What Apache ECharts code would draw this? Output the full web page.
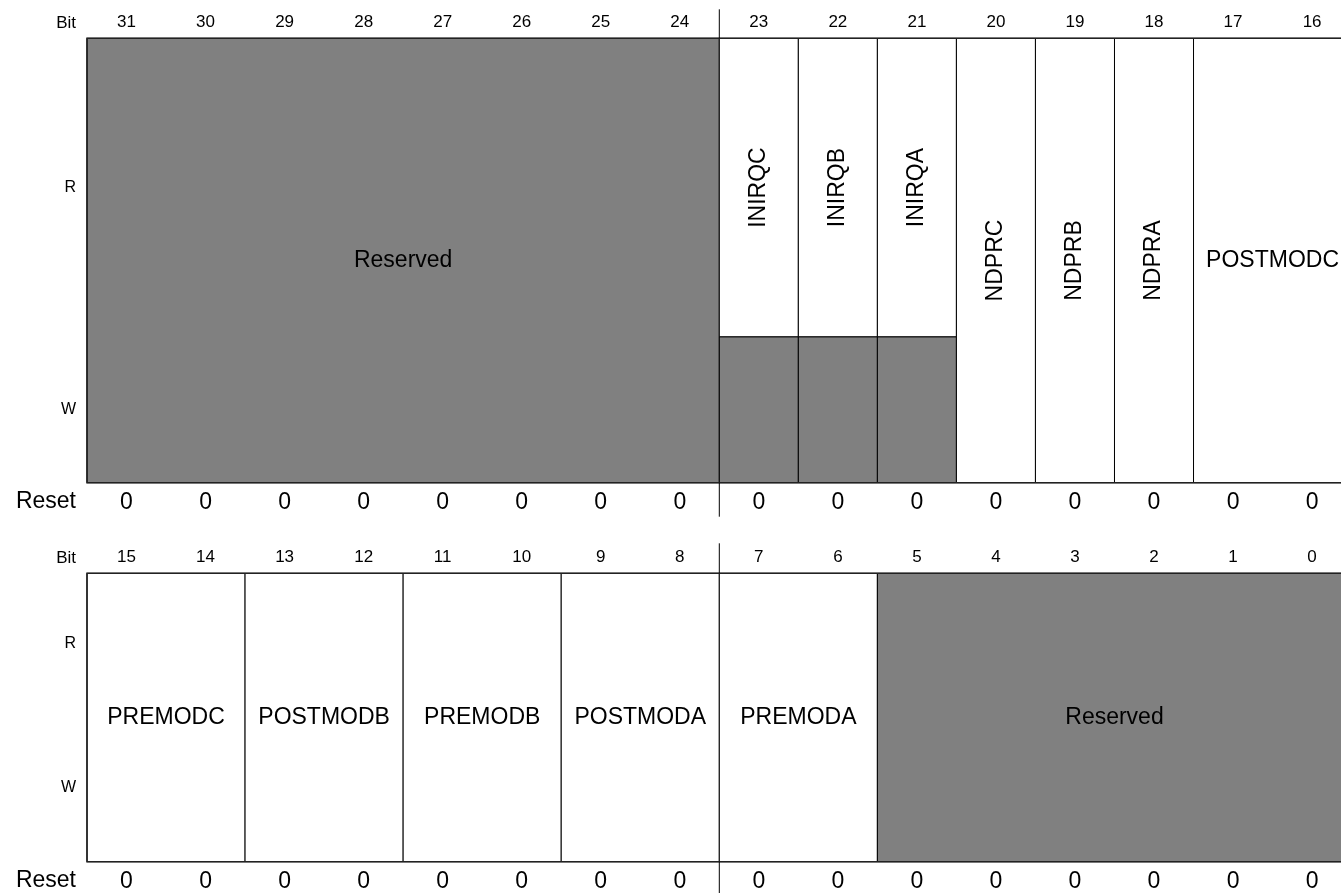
<!DOCTYPE html>
<html>
<head>
<meta charset="utf-8">
<script src="https://cdn.jsdelivr.net/npm/echarts@6/dist/echarts.min.js"></script>
<style>
  html, body { margin: 0; padding: 0; background: #fff; overflow: hidden; }
  #chart { width: 1356px; height: 893px; }
</style>
</head>
<body>
<div id="chart"></div>
<script>
// ---------- data ----------
const topBits = ['31','30','29','28','27','26','25','24','23','22','21','20','19','18','17','16'];
const topReset = ['0','0','0','0','0','0','0','0','0','0','0','0','0','0','0','0'];
const topFieldNames = ['Reserved','INIRQC','INIRQB','INIRQA','NDPRC','NDPRB','NDPRA','POSTMODC'];
const topFieldMsb = [31, 23, 22, 21, 20, 19, 18, 17];
const topFieldLsb = [24, 23, 22, 21, 20, 19, 18, 16];
const topFieldAccess = ['reserved','r','r','r','rw','rw','rw','rw'];

const bottomBits = ['15','14','13','12','11','10','9','8','7','6','5','4','3','2','1','0'];
const bottomReset = ['0','0','0','0','0','0','0','0','0','0','0','0','0','0','0','0'];
const bottomFieldNames = ['PREMODC','POSTMODB','PREMODB','POSTMODA','PREMODA','Reserved'];
const bottomFieldMsb = [15, 13, 11, 9, 7, 5];
const bottomFieldLsb = [14, 12, 10, 8, 6, 0];
const bottomFieldAccess = ['rw','rw','rw','rw','rw','reserved'];

const rowLabels = ['R', 'W'];
const bitLabel = 'Bit';
const resetLabel = 'Reset';

// ---------- style / layout ----------
const FONT = '"Liberation Sans", Arial, Helvetica, sans-serif';
const GRAY = '#808080';
const LINE = '#000';
const TEXT = '#000';
const rwSplit = [0.672, 0.485]; // fraction of box height where R row ends (per register)

function buildFieldData(msbArr, lsbArr, topBit) {
  return msbArr.map((m, i) => [topBit - m, topBit - lsbArr[i], i]);
}

function fieldRenderer(names, access, regIdx) {
  return function (params, api) {
    const c0 = api.value(0), c1 = api.value(1), idx = api.value(2);
    const band = api.size([1, 0])[0];
    const pA = api.coord([c0, 0]);
    const pB = api.coord([c1, 1]);
    const x0 = pA[0] - band / 2, x1 = pB[0] + band / 2;
    const y0 = pA[1], y1 = pB[1];
    const ySplit = api.coord([c0, rwSplit[regIdx]])[1];
    const acc = access[idx];
    const children = [];
    const lineStyle = { stroke: LINE, lineWidth: 1 };
    let ty = (y0 + y1) / 2;
    if (acc === 'reserved') {
      children.push({ type: 'rect', shape: { x: x0, y: y0, width: x1 - x0, height: y1 - y0 },
        style: Object.assign({ fill: GRAY }, lineStyle) });
    } else if (acc === 'r') {
      children.push({ type: 'rect', shape: { x: x0, y: y0, width: x1 - x0, height: ySplit - y0 },
        style: Object.assign({ fill: '#fff' }, lineStyle) });
      children.push({ type: 'rect', shape: { x: x0, y: ySplit, width: x1 - x0, height: y1 - ySplit },
        style: Object.assign({ fill: GRAY }, lineStyle) });
      ty = (y0 + ySplit) / 2;
    } else {
      children.push({ type: 'rect', shape: { x: x0, y: y0, width: x1 - x0, height: y1 - y0 },
        style: Object.assign({ fill: '#fff' }, lineStyle) });
    }
    const vertical = (c0 === c1);
    children.push({
      type: 'text', x: (x0 + x1) / 2, y: ty, rotation: vertical ? Math.PI / 2 : 0,
      style: { text: names[idx], fill: TEXT, fontSize: 23, fontFamily: FONT,
               align: 'center', verticalAlign: 'middle' }
    });
    return { type: 'group', children: children };
  };
}

function frameRenderer(regIdx, sepTop, sepBottom) {
  return function (params, api) {
    const band = api.size([1, 0])[0];
    const pA = api.coord([0, 0]);
    const pB = api.coord([15, 1]);
    const x0 = pA[0] - band / 2, x1 = pB[0] + band / 2;
    const y0 = pA[1], y1 = pB[1];
    const ySplit = api.coord([0, rwSplit[regIdx]])[1];
    const xSep = api.coord([7, 0])[0] + band / 2;
    const labelStyle = (t, size, y) => ({
      type: 'text', x: x0 - 11, y: y,
      style: { text: t, fill: TEXT, fontSize: size, fontFamily: FONT, align: 'right', verticalAlign: 'middle' }
    });
    return {
      type: 'group',
      children: [
        { type: 'rect', shape: { x: x0, y: y0, width: x1 - x0, height: y1 - y0 },
          style: { fill: null, stroke: '#222', lineWidth: 1.6 } },
        { type: 'line', shape: { x1: xSep, y1: y0 - sepTop, x2: xSep, y2: y0 },
          style: { stroke: LINE, lineWidth: 1 } },
        { type: 'line', shape: { x1: xSep, y1: y1, x2: xSep, y2: y1 + sepBottom },
          style: { stroke: LINE, lineWidth: 1 } },
        labelStyle(rowLabels[0], 16, (y0 + ySplit) / 2),
        labelStyle(rowLabels[1], 16, (ySplit + y1) / 2),
        labelStyle(bitLabel, 17, y0 - 15),
        labelStyle(resetLabel, 23, y1 + 19)
      ]
    };
  };
}

function bitAxis(gridIndex, data) {
  return { gridIndex: gridIndex, type: 'category', position: 'top', data: data,
    axisLine: { show: false }, axisTick: { show: false }, splitLine: { show: false },
    axisLabel: { interval: 0, fontSize: 17, color: TEXT, fontFamily: FONT, margin: 7 } };
}
function resetAxis(gridIndex, data) {
  return { gridIndex: gridIndex, type: 'category', position: 'bottom', data: data,
    axisLine: { show: false }, axisTick: { show: false }, splitLine: { show: false },
    axisLabel: { interval: 0, fontSize: 23, color: TEXT, fontFamily: FONT, margin: 8 } };
}

const chart = echarts.init(document.getElementById('chart'), null, { renderer: 'canvas' });
chart.setOption({
  animation: false,
  backgroundColor: '#fff',
  grid: [
    { left: 87, top: 38.3, width: 1264.6, height: 444.4 },
    { left: 87, top: 573.3, width: 1264.6, height: 288.4 }
  ],
  xAxis: [
    bitAxis(0, topBits), resetAxis(0, topReset),
    bitAxis(1, bottomBits), resetAxis(1, bottomReset)
  ],
  yAxis: [
    { gridIndex: 0, type: 'value', min: 0, max: 1, inverse: true, show: false },
    { gridIndex: 1, type: 'value', min: 0, max: 1, inverse: true, show: false }
  ],
  series: [
    { type: 'custom', xAxisIndex: 0, yAxisIndex: 0, z: 2, clip: false,
      renderItem: fieldRenderer(topFieldNames, topFieldAccess, 0),
      data: buildFieldData(topFieldMsb, topFieldLsb, 31) },
    { type: 'custom', xAxisIndex: 2, yAxisIndex: 1, z: 2, clip: false,
      renderItem: fieldRenderer(bottomFieldNames, bottomFieldAccess, 1),
      data: buildFieldData(bottomFieldMsb, bottomFieldLsb, 15) },
    { type: 'custom', xAxisIndex: 0, yAxisIndex: 0, z: 3, clip: false,
      renderItem: frameRenderer(0, 29, 34), data: [[0, 0]] },
    { type: 'custom', xAxisIndex: 2, yAxisIndex: 1, z: 3, clip: false,
      renderItem: frameRenderer(1, 30, 34), data: [[0, 0]] }
  ]
});
</script>
</body>
</html>
